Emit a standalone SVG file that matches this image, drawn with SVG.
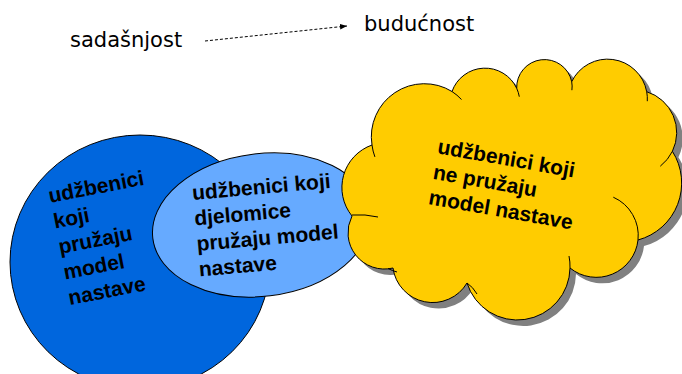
<svg xmlns="http://www.w3.org/2000/svg" width="682" height="374" viewBox="0 0 682 374">
<style>
.lbl{font-family:"DejaVu Sans","Liberation Sans",sans-serif;font-size:21px;fill:#000}
.bt{font-family:"Liberation Sans",Arial,sans-serif;font-size:21px;font-weight:bold;fill:#000}
.edge{stroke:#000;stroke-width:1}
.inner{fill:none;stroke:#000;stroke-width:1}
</style>
<defs>
<marker id="ah" viewBox="0 0 10 10" refX="10" refY="5" markerWidth="7" markerHeight="7" orient="auto" markerUnits="userSpaceOnUse">
<path d="M0,1 L10,5 L0,9 Z" fill="#000"/>
</marker>
<path id="cloudShape" d="M372,145 A53,53 0 0,1 452,91.5 A35,35 0 0,1 516.7,88.3 A27.8,27.8 0 0,1 571.7,81.7 A39.8,39.8 0 0,1 646.7,91.7 A42.8,42.8 0 0,1 672.4,151.3 A59,59 0 0,1 638,240 A41.9,41.9 0 0,1 570,268 A52.7,52.7 0 0,1 467,283 A40,40 0 0,1 393,268 A36.4,36.4 0 0,1 352,216 A45.1,45.1 0 0,1 372,145 Z"/>
</defs>

<g id="label-sadasnjost"><text class="lbl" x="70" y="47">sadašnjost</text></g>
<g id="label-buducnost"><text class="lbl" x="364" y="31">budućnost</text></g>

<g id="connectors">
<line x1="205" y1="41" x2="347" y2="26" stroke="#000" stroke-width="1" stroke-dasharray="3,2" marker-end="url(#ah)"/>
</g>

<g id="node-full">
<ellipse cx="140" cy="262" rx="130" ry="127" fill="#0066DD" class="edge"/>
<text class="bt" transform="translate(50,203) rotate(-11)"><tspan x="0" y="0">udžbenici</tspan><tspan x="0" y="26">koji</tspan><tspan x="0" y="52">pružaju</tspan><tspan x="0" y="78">model</tspan><tspan x="0" y="104">nastave</tspan></text>
</g>

<g id="node-partial">
<ellipse cx="261.5" cy="225" rx="109.5" ry="71.3" transform="rotate(-7 261.5 225)" fill="#66AAFF" class="edge"/>
<text class="bt" transform="translate(192.7,200) rotate(-5)"><tspan x="0" y="0">udžbenici koji</tspan><tspan x="0" y="25.6">djelomice</tspan><tspan x="0" y="51.2">pružaju model</tspan><tspan x="0" y="76.8">nastave</tspan></text>
</g>

<g id="node-none">
<use href="#cloudShape" transform="translate(6,6)" fill="#808080"/>
<use href="#cloudShape" fill="#FFCC00" class="edge"/>
<path class="inner" d="M372,145 A53,53 0 0,0 374.9,156.9 M452,91.5 A53,53 0 0,1 461.5,99.5 M516.7,88.3 A35,35 0 0,1 519.3,96.7 M571.7,81.7 A27.8,27.8 0 0,1 571.9,90.2 M646.7,91.7 A39.8,39.8 0 0,1 647.3,101.2 M672.4,151.3 A42.8,42.8 0 0,1 660.3,166.2 M638,240 A41.9,41.9 0 0,0 613.3,197.2 M570,268 A52.7,52.7 0 0,0 569,256 M467,283 Q473,287 477,294 M388,268.5 Q393,271 397,272 M352,215 Q365,214 378,217"/>
<text class="bt" transform="translate(436.7,153.3) rotate(10)"><tspan x="0" y="0">udžbenici koji</tspan><tspan x="0" y="25.8">ne pružaju</tspan><tspan x="0" y="51.6">model nastave</tspan></text>
</g>
</svg>
